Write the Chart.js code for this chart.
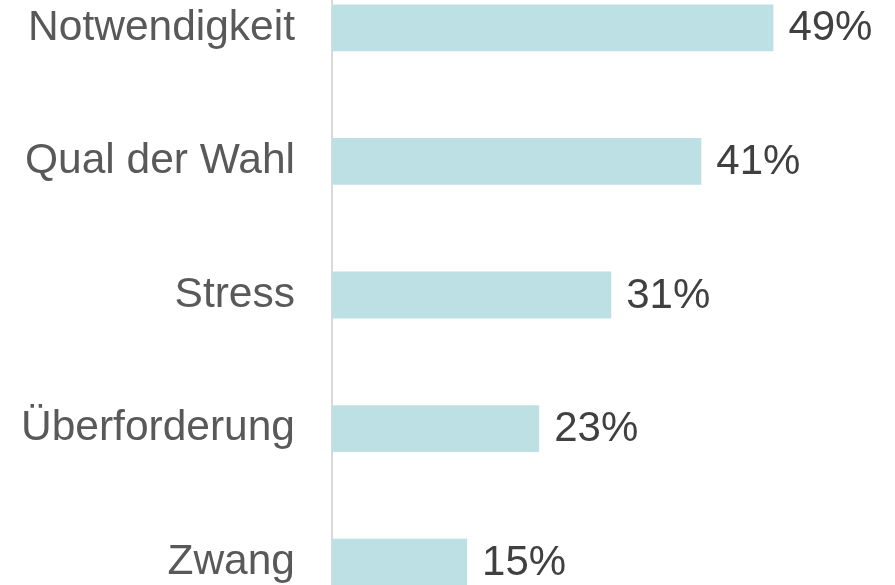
<!DOCTYPE html>
<html>
<head>
<meta charset="utf-8">
<script src="https://cdn.jsdelivr.net/npm/chart.js@4"></script>
<style>
  html, body { margin: 0; padding: 0; background: #fff; overflow: hidden; }
  #wrap { position: absolute; left: 0; top: -39px; width: 895px; height: 668px; }
</style>
</head>
<body>
<div id="wrap"><canvas id="chart"></canvas></div>
<script>
// Gründe – Anteil in Prozent
var KATEGORIEN = ['Notwendigkeit', 'Qual der Wahl', 'Stress', 'Überforderung', 'Zwang'];
var WERTE = [49, 41, 31, 23, 15];

var FONT = '"Liberation Sans", Arial, sans-serif';

// Prozentwerte rechts neben die Balken schreiben
var wertLabels = {
  id: 'wertLabels',
  afterDatasetsDraw: function (chart) {
    var ctx = chart.ctx;
    var meta = chart.getDatasetMeta(0);
    ctx.save();
    ctx.font = '42px ' + FONT;
    ctx.fillStyle = '#404040';
    ctx.textAlign = 'left';
    ctx.textBaseline = 'middle';
    meta.data.forEach(function (bar, i) {
      ctx.fillText(WERTE[i] + '%', bar.x + 15, bar.y + 1);
    });
    ctx.restore();
  }
};

new Chart(document.getElementById('chart').getContext('2d'), {
  type: 'bar',
  data: {
    labels: KATEGORIEN,
    datasets: [{
      data: WERTE,
      backgroundColor: '#bce0e3',
      categoryPercentage: 1,
      barPercentage: 0.35
    }]
  },
  options: {
    indexAxis: 'y',
    responsive: true, maintainAspectRatio: false,
    animation: false,
    layout: { padding: 0 },
    plugins: { legend: { display: false }, tooltip: { enabled: false } },
    scales: {
      x: { display: false, min: 0, max: 62.5 },
      y: {
        grid: { display: false, drawTicks: false },
        border: { display: true, color: '#d9d9d9', width: 2 },
        ticks: { color: '#595959', padding: 37, font: { family: FONT, size: 42.5 } },
        afterFit: function (s) {
          // feste Achsenbreite, keine Zusatzabstände oben/unten
          s.width = 332;
          s.paddingTop = 0; s.paddingBottom = 0;
        }
      }
    }
  },
  plugins: [wertLabels]
});
</script>
</body>
</html>
